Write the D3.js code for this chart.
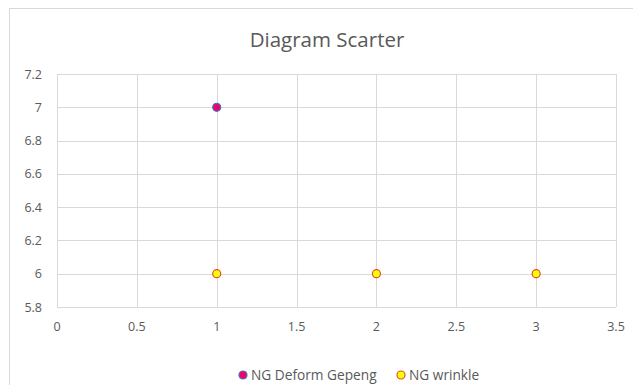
<!DOCTYPE html>
<html><head><meta charset="utf-8">
<script src="https://cdn.jsdelivr.net/npm/d3@7"></script>
<style>html,body{margin:0;padding:0;background:#fff;overflow:hidden}</style>
</head><body><svg id="c" width="633" height="385"></svg>
<script>
const title = "Diagram Scarter";
const seriesNames = ["NG Deform Gepeng", "NG wrinkle"];
const deformX = [1];
const deformY = [7];
const wrinkleX = [1, 2, 3];
const wrinkleY = [6, 6, 6];
const xTicks = [0, 0.5, 1, 1.5, 2, 2.5, 3, 3.5];
const yTicks = [5.8, 6, 6.2, 6.4, 6.6, 6.8, 7, 7.2];

const svg = d3.select("#c");
const font = "'Open Sans', 'Noto Sans', sans-serif";
const txt = "#595959";
svg.append("rect").attr("x", 9.5).attr("y", 8.5).attr("width", 700).attr("height", 500)
  .attr("fill", "#fff").attr("stroke", "#d9d9d9");

const x = d3.scaleLinear().domain([0, 3.5]).range([57, 616]);
const y = d3.scaleLinear().domain([5.8, 7.2]).range([307, 74]);

const g = svg.append("g");
g.selectAll(".vx").data(xTicks).join("line")
  .attr("x1", d => Math.round(x(d)) + 0.5).attr("x2", d => Math.round(x(d)) + 0.5)
  .attr("y1", y(7.2)).attr("y2", y(5.8)).attr("stroke", "#d9d9d9");
g.selectAll(".hy").data(yTicks).join("line")
  .attr("y1", d => Math.round(y(d)) + 0.5).attr("y2", d => Math.round(y(d)) + 0.5)
  .attr("x1", x(0)).attr("x2", x(3.5)).attr("stroke", "#d9d9d9");

g.selectAll(".xl").data(xTicks).join("text")
  .attr("x", d => x(d)).attr("y", 331).attr("text-anchor", "middle")
  .attr("font-family", font).attr("font-size", 12.5).attr("fill", txt).text(d => d);
g.selectAll(".yl").data(yTicks).join("text")
  .attr("x", 42).attr("y", d => y(d) + 4.5).attr("text-anchor", "end")
  .attr("font-family", font).attr("font-size", 12.5).attr("fill", txt).text(d => d);

svg.append("text").attr("x", 327).attr("y", 47).attr("text-anchor", "middle")
  .attr("font-family", font).attr("font-size", 20.5).attr("fill", txt).text(title);

const styles = [{fill: "#f0006a", stroke: "#4472c4"}, {fill: "#ffff00", stroke: "#e0502a"}];
const pts = [deformX.map((v, i) => [v, deformY[i]]), wrinkleX.map((v, i) => [v, wrinkleY[i]])];
pts.forEach((p, si) => {
  g.selectAll(".p" + si).data(p).join("circle")
    .attr("cx", d => x(d[0])).attr("cy", d => y(d[1])).attr("r", 4)
    .attr("fill", styles[si].fill).attr("stroke", styles[si].stroke).attr("stroke-width", 1.2);
});

const legX = [243, 401];
seriesNames.forEach((n, i) => {
  svg.append("circle").attr("cx", legX[i]).attr("cy", 375).attr("r", 4)
    .attr("fill", styles[i].fill).attr("stroke", styles[i].stroke).attr("stroke-width", 1.2);
  svg.append("text").attr("x", legX[i] + 8).attr("y", 380)
    .attr("font-family", font).attr("font-size", 13.7).attr("fill", txt).text(n);
});
</script></body></html>
